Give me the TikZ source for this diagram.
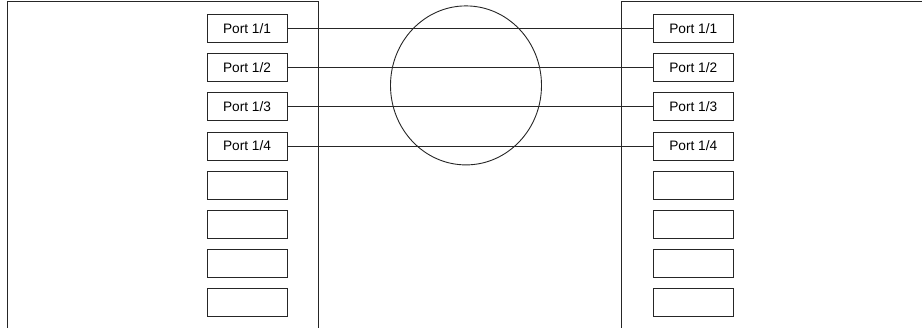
\documentclass[tikz,border=0pt]{standalone}
\usepackage{fontspec}
\setmainfont{Liberation Sans}
\usetikzlibrary{shapes.geometric}
\begin{document}
\begin{tikzpicture}[x=1pt,y=-1pt,
  frame/.style={draw=black!85,line width=0.9pt},
  portbox/.style={draw=black!85,line width=0.9pt,minimum width=80pt,minimum height=28pt,inner sep=0pt,font=\fontsize{13.7}{15}\selectfont},
  link/.style={draw=black!85,line width=0.9pt}]
\useasboundingbox (0,0) rectangle (922,327);
% chassis outlines
\draw[frame] (7,328) -- (7,1.5) -- (318,1.5) -- (318,328);
\draw[frame] (621.7,328) -- (621.7,1.5) -- (923,1.5);
% ports
\foreach \i/\t in {1/{Port 1/1},2/{Port 1/2},3/{Port 1/3},4/{Port 1/4},5/{},6/{},7/{},8/{}}{
  \node[portbox] (L\i) at (247,{28.5+39.2*(\i-1)}) {\t};
  \node[portbox] (R\i) at (693.3,{28.5+39.2*(\i-1)}) {\t};
}
% links
\foreach \i in {1,...,4}{
  \draw[link] (L\i.east) -- (R\i.west);
}
% circle
\node[draw=black!85,line width=0.9pt,ellipse,minimum width=151pt,minimum height=159pt,inner sep=0pt] (cl) at (466,85.4) {};
\end{tikzpicture}
\end{document}
